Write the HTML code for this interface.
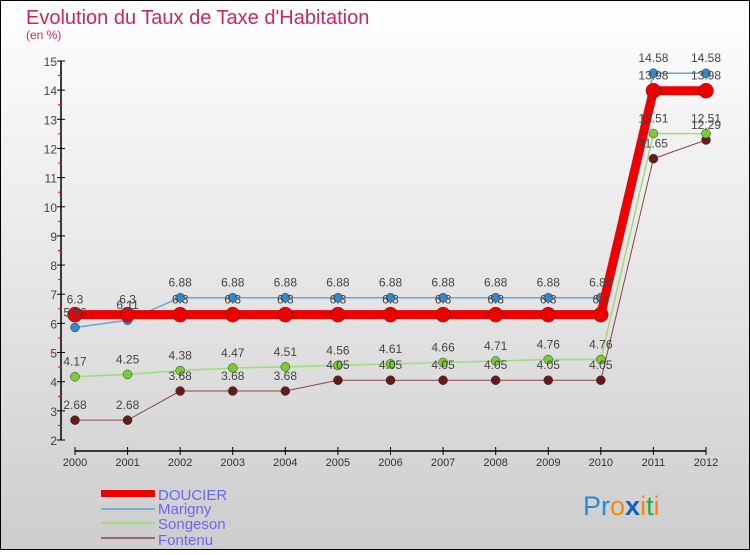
<!DOCTYPE html>
<html><head><meta charset="utf-8"><style>
body{margin:0;width:750px;height:550px;overflow:hidden}
svg text{font-family:"Liberation Sans",sans-serif}
</style></head><body>
<svg id="c" width="750" height="550" xmlns="http://www.w3.org/2000/svg">
<defs><linearGradient id="bg" x1="0" y1="0" x2="0" y2="1"><stop offset="0" stop-color="#ffffff"/><stop offset="1" stop-color="#cdcdcd"/></linearGradient></defs>
<rect x="0.5" y="0.5" width="749" height="549" fill="url(#bg)" stroke="#000"/>
<text x="26" y="24" font-size="20" fill="#c8285a">Evolution du Taux de Taxe d'Habitation</text>
<text x="26" y="39" font-size="12" fill="#c8285a">(en %)</text>
<g id="axes"></g>
<g id="series"></g>
<g id="labels"></g>
<g id="legend">
<rect x="101" y="490" width="54" height="7" fill="#ee0000"/>
<text x="158" y="500" font-size="15" fill="#6666ff">DOUCIER</text>
<rect x="101" y="508" width="54" height="2" fill="#7aaed6"/>
<text x="158" y="514" font-size="15" fill="#6666ff">Marigny</text>
<rect x="101" y="522" width="54" height="2" fill="#99dd77"/>
<text x="158" y="529" font-size="15" fill="#6666ff">Songeson</text>
<rect x="101" y="537" width="54" height="2" fill="#996666"/>
<text x="158" y="545" font-size="15" fill="#6666ff">Fontenu</text>
</g>
<text x="583" y="515" font-size="27"><tspan fill="#2a8ad6">Pr</tspan><tspan fill="#ff8800">o</tspan><tspan fill="#1060c0" font-weight="bold">x</tspan><tspan fill="#ff8800">i</tspan><tspan fill="#22aa44">t</tspan><tspan fill="#ff8800">i</tspan></text>
</svg>
<script>
const years=[2000,2001,2002,2003,2004,2005,2006,2007,2008,2009,2010,2011,2012];
const yTicks=[2,3,4,5,6,7,8,9,10,11,12,13,14,15];
const doucier=[6.3,6.3,6.3,6.3,6.3,6.3,6.3,6.3,6.3,6.3,6.3,13.98,13.98];
const marigny=[5.86,6.11,6.88,6.88,6.88,6.88,6.88,6.88,6.88,6.88,6.88,14.58,14.58];
const songeson=[4.17,4.25,4.38,4.47,4.51,4.56,4.61,4.66,4.71,4.76,4.76,12.51,12.51];
const fontenu=[2.68,2.68,3.68,3.68,3.68,4.05,4.05,4.05,4.05,4.05,4.05,11.65,12.29];
const NS="http://www.w3.org/2000/svg";
const X=i=>75+i*(706-75)/(years.length-1);
const Y=v=>440-(v-2)*(440-61)/13;
function mk(t,a,p){const e=document.createElementNS(NS,t);for(const k in a)e.setAttribute(k,a[k]);p.appendChild(e);return e;}
const ax=document.getElementById('axes');
let e=mk('line',{x1:61,y1:61,x2:61,y2:440,stroke:'#000','stroke-width':1.5},ax);


e=mk('line',{x1:75,y1:451,x2:706,y2:451,stroke:'#000','stroke-width':1.5},ax);


yTicks.forEach(v=>{
  mk('line',{x1:57,x2:65,y1:Y(v),y2:Y(v),stroke:'#000'},ax);
  if(v<15)mk('line',{x1:58,x2:62,y1:Y(v+0.5),y2:Y(v+0.5),stroke:'#e00'},ax);
  const t=mk('text',{x:57,y:Y(v)+5,'font-size':12,fill:'#444','text-anchor':'end'},ax);t.textContent=v;
  
  
});
years.forEach((y,i)=>{
  mk('line',{x1:X(i),x2:X(i),y1:447,y2:455,stroke:'#000'},ax);
  const t=mk('text',{x:X(i),y:466,'font-size':11,fill:'#333','text-anchor':'middle'},ax);t.textContent=y;
  
  
});
const sg=document.getElementById('series');
const lg=document.getElementById('labels');
function series(name,vals,color,w,r,fill){
  const g=mk('g',{},sg);
  
  
  const pl=mk('polyline',{points:vals.map((v,i)=>X(i)+','+Y(v)).join(' '),fill:'none',stroke:color,'stroke-width':w},g);
  
  
  vals.forEach((v,i)=>{
    const c=mk('circle',{cx:X(i),cy:Y(v),r:r,fill:fill,stroke:'#333','stroke-width':0.5},g);
    
    
    const t=mk('text',{x:X(i),y:Y(v)-11,'font-size':12,fill:'#444','text-anchor':'middle'},lg);t.textContent=v;
    
    
  });
}
series('fontenu',fontenu,'#884444',1,4.5,'#661a1a');
series('songeson',songeson,'#99dd77',1.5,4.5,'#77cc33');
series('marigny',marigny,'#6aa6d6',1.5,4.5,'#3388cc');
series('doucier',doucier,'#ee0000',9,7.5,'#ee0000');
</script>
</body></html>
